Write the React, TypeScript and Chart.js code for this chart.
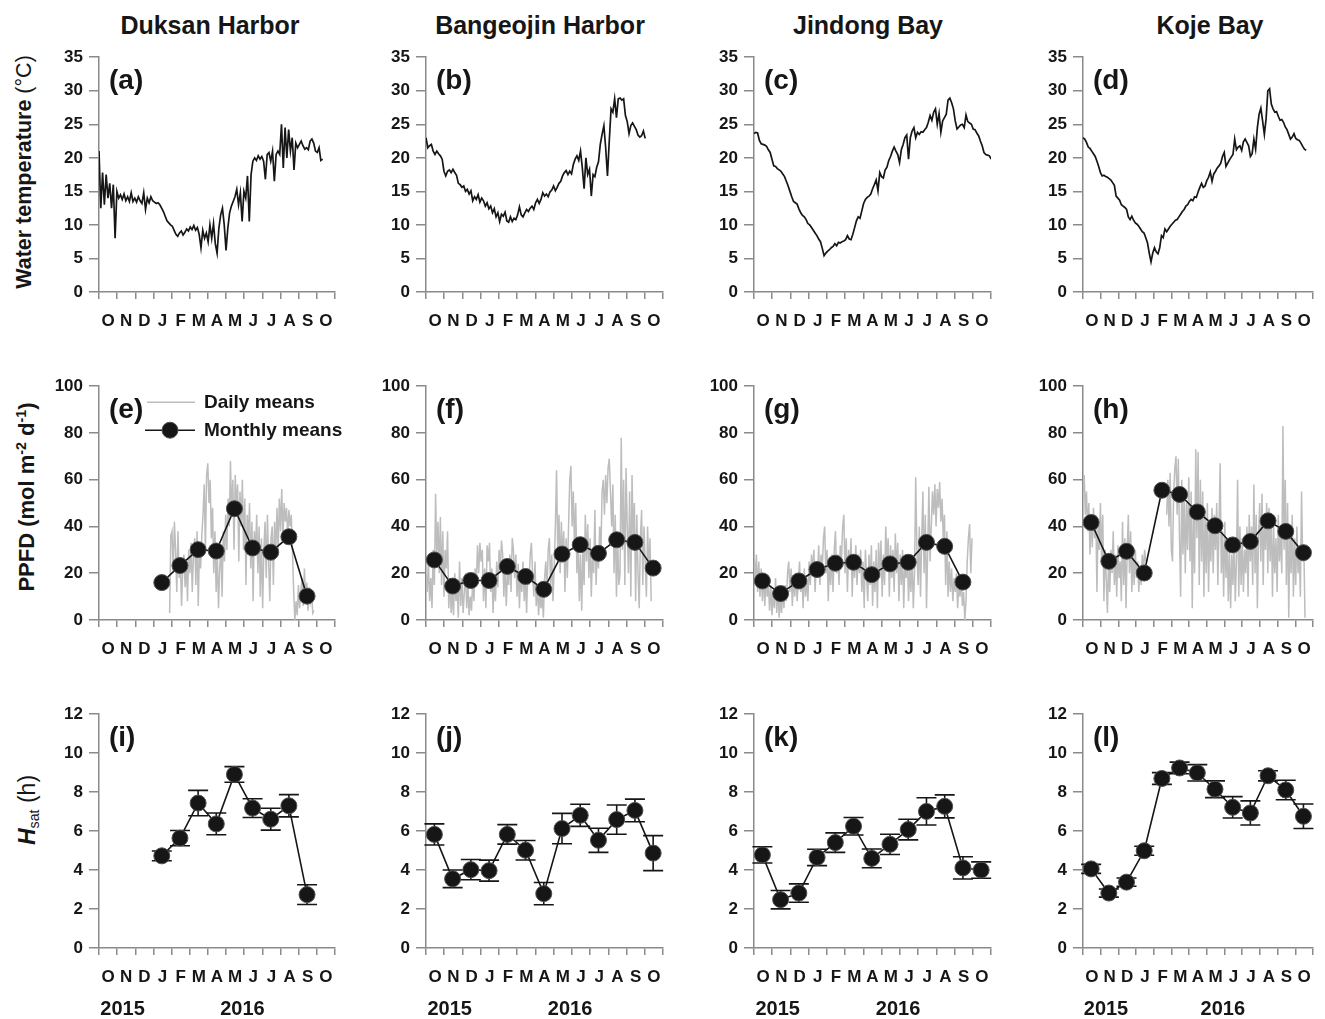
import React, { useEffect, useRef } from 'react';
import Chart from 'chart.js/auto';

// ---------------- data ----------------
const MONTHS = ['O', 'N', 'D', 'J', 'F', 'M', 'A', 'M', 'J', 'J', 'A', 'S', 'O'];
const YEARS = ['2015', '2016'];
const YEAR_TICKS = [1.3, 7.9];
const SITES = ['Duksan Harbor', 'Bangeojin Harbor', 'Jindong Bay', 'Koje Bay'];
const LETTERS = ['a', 'b', 'c', 'd', 'e', 'f', 'g', 'h', 'i', 'j', 'k', 'l'];

const TEMP_STEP = 3 / 30.44; // one sample every 3 days (in months)
const PPFD_STEP = 2 / 30.44; // one sample every 2 days (in months)
const MONTH_MID = 0.46;

// Water temperature (°C), every 3 days from 1 Oct 2015
const TEMP_A = [21, 12.5, 17.8, 13, 17.5, 14, 16.2, 12.5, 16, 8, 15, 14, 14.5, 13.8, 14.6, 13.6, 14.2, 13.5, 14.8, 13.5, 14, 13.4, 14.2, 13.6, 13.2, 14.8, 12.3, 14, 13.3, 14.2, 13.6, 13.4, 13.2, 13.3, 13, 12.5, 12, 11.3, 10.6, 10.3, 10, 9.8, 9.2, 8.6, 8.3, 8.8, 9.1, 8.5, 8.9, 9.4, 9.1, 9.7, 9.3, 9.9, 9.2, 9.6, 8.6, 6.6, 9.2, 8, 8.8, 7.5, 10, 8, 10.2, 7.2, 5.8, 9.5, 11.5, 12.5, 10, 6.2, 9.5, 11.8, 12.8, 13.5, 14.2, 15.3, 13, 14.8, 10.5, 15, 14, 17.3, 10.5, 17.5, 19.5, 20, 19.6, 20.3, 19.8, 20.2, 19.5, 16.8, 20.5, 20.8, 19.5, 21, 16.5, 20.5, 21, 20.5, 25, 18.5, 24.5, 20, 24.2, 21, 23, 18.2, 22.2, 21.5, 22, 22.5, 21.8, 21.3, 21.5, 21.2, 22.5, 22.8, 22.2, 21, 20.8, 21.5, 19.6, 19.8];
const TEMP_B = [23, 21.5, 21.8, 22, 21, 20.5, 21, 20.6, 20.3, 19.8, 18, 17.3, 18, 18.2, 17.8, 18.3, 17.8, 17.4, 16.2, 16, 15.6, 15.8, 15, 15.3, 14.6, 15.1, 13.6, 14.2, 13.8, 14.5, 13.4, 14, 13.6, 12.8, 13.3, 12.4, 12.8, 11.8, 12.4, 11.2, 11.8, 10.5, 11.6, 11.3, 11.9, 10.6, 10.4, 11.2, 10.5, 11, 10.8, 11.5, 12.7, 11.5, 11.2, 11.8, 12.3, 12, 12.5, 12.8, 12.3, 13.3, 13.8, 13.2, 13.8, 14.8, 14.3, 14.6, 14.2, 14.9, 15.2, 15.8, 15.1, 15.6, 16.2, 16.5, 17.3, 17.8, 18.1, 17.5, 18, 17.6, 19, 19.8, 20.3, 19.6, 21, 18.5, 15.4, 20, 17.5, 18.3, 14.3, 17.5, 17.2, 18.6, 19.4, 22, 23.5, 24.8, 21.5, 17.3, 22.5, 27.3, 26.8, 28.8, 26, 28.8, 28.9, 28.6, 28.8, 26.3, 25.4, 23.6, 24.8, 25.2, 24.7, 24.2, 23.4, 23.1, 23.3, 24, 22.9];
const TEMP_C = [23.6, 23.8, 23.7, 22.6, 22.1, 22, 21.9, 21.7, 21.2, 20.8, 19.8, 18.8, 18.7, 18.4, 18.2, 18, 17.6, 17.2, 16.5, 15.8, 15, 14.2, 13.5, 13.3, 13.1, 12.4, 11.8, 11.4, 11.2, 10.8, 10.2, 10, 9.6, 9.2, 8.8, 8.4, 7.9, 7.5, 6.5, 5.4, 5.8, 6.1, 6.3, 6.6, 6.8, 7.2, 6.9, 7.4, 7.3, 7.5, 7.6, 7.8, 8.4, 7.9, 7.8, 8.6, 9.6, 10.6, 11.2, 11, 12.1, 13.2, 13.8, 14.1, 14.3, 14.6, 15.4, 16, 16.7, 15.1, 17.8, 17.2, 17, 18.2, 18.6, 19.6, 20.2, 21, 21.6, 21, 20.5, 19.3, 21.2, 22, 23, 23.4, 19.8, 23, 24, 24.5, 23, 23.8, 23.5, 23.9, 23.8, 24.2, 24.5, 25.3, 26.3, 25.6, 26.8, 27.3, 25, 26.6, 23.8, 25.5, 26, 26.5, 28.6, 28.9, 28.2, 27.3, 25.5, 24.3, 24.6, 24.9, 25, 24.5, 26.4, 25.4, 25.2, 25, 24.3, 24.2, 23.7, 23.3, 22.5, 21.8, 20.8, 20.5, 20.4, 20.3, 19.8];
const TEMP_D = [23, 22.8, 22.3, 21.6, 21.4, 21, 20.6, 20.2, 19.5, 18.7, 17.8, 17.3, 17.4, 17.2, 17.1, 16.9, 16.7, 16.3, 15.9, 14.3, 14, 13.7, 13, 12.8, 12.6, 12.3, 11.2, 10.8, 11.3, 10.7, 10.3, 10.1, 9.8, 9.4, 9, 8.8, 8.1, 7.3, 5.8, 4.5, 5.8, 6.6, 6, 5.7, 6.6, 8.4, 8.1, 9.4, 9, 9.4, 9.8, 10.1, 10.4, 10.7, 10.8, 11.2, 11.6, 12, 12.3, 12.8, 13, 13.5, 13.8, 13.6, 14.2, 14.1, 14.9, 15.6, 16.2, 15.6, 15.8, 16.6, 17.1, 17.9, 16.5, 17.6, 18, 18.5, 18.8, 19.2, 20.2, 20.8, 18.7, 19.2, 19.7, 20.1, 20.5, 22.8, 21.2, 21.6, 21.8, 21.1, 22.4, 22.8, 22.3, 21.8, 20.2, 20.6, 22.8, 21.3, 24.5, 26.5, 27.4, 25.5, 23.5, 25.8, 30, 30.3, 28, 27.3, 26.8, 26.9, 26.2, 25.6, 25.7, 25.3, 24.6, 24.2, 23.5, 22.8, 23.1, 23.6, 22.9, 22.7, 22.6, 22.2, 21.7, 21.3, 21.1];

// PPFD daily means (mol m-2 d-1), every 2 days
const PPFD_E = [3, 36, 38, 20, 42, 30, 12, 38, 18, 25, 6, 22, 28, 14, 25, 8, 30, 20, 33, 12, 28, 35, 15, 38, 6, 30, 22, 36, 45, 58, 30, 62, 67, 50, 60, 35, 48, 20, 38, 12, 28, 5, 22, 32, 10, 38, 25, 45, 30, 52, 40, 68, 45, 60, 30, 62, 48, 58, 25, 55, 40, 60, 30, 52, 15, 45, 35, 50, 22, 42, 8, 38, 28, 45, 20, 40, 10, 35, 5, 30, 42, 18, 45, 25, 8, 35, 40, 15, 42, 28, 48, 30, 52, 38, 56, 35, 50, 42, 48, 36, 47, 40, 45, 30, 12, 0, 8, 2, 15, 5, 12, 18, 6, 22, 10, 16, 4, 14, 8, 12, 3, 4];
const PPFD_F = [20, 12, 25, 8, 18, 5, 30, 15, 54, 28, 42, 20, 44, 15, 38, 10, 30, 22, 38, 5, 18, 3, 12, 2, 20, 8, 14, 1, 25, 6, 18, 3, 12, 20, 5, 15, 2, 10, 4, 18, 8, 22, 15, 32, 20, 33, 25, 30, 8, 22, 5, 32, 25, 33, 12, 22, 3, 18, 8, 25, 14, 30, 20, 34, 28, 10, 25, 6, 20, 15, 28, 12, 35, 30, 18, 28, 10, 24, 5, 20, 12, 25, 8, 18, 3, 22, 15, 28, 33, 20, 10, 25, 6, 15, 2, 12, 5, 10, 1, 18, 25, 12, 30, 35, 15, 28, 8, 22, 40, 64, 30, 45, 20, 42, 25, 38, 12, 35, 18, 40, 60, 66, 40, 55, 30, 50, 20, 35, 8, 28, 4, 30, 15, 45, 25, 41, 18, 35, 10, 30, 20, 47, 15, 32, 22, 40, 28, 55, 60, 45, 62, 50, 65, 69, 55, 40, 58, 20, 45, 10, 35, 15, 20, 78, 30, 60, 15, 65, 40, 20, 55, 10, 62, 35, 50, 8, 45, 20, 5, 35, 47, 15, 40, 25, 10, 40, 20, 35, 8];
const PPFD_G = [30, 15, 28, 12, 25, 10, 22, 8, 20, 6, 18, 10, 16, 4, 15, 2, 12, 5, 18, 3, 14, 1, 10, 3, 12, 5, 15, 8, 20, 25, 12, 22, 6, 18, 10, 20, 8, 16, 25, 12, 20, 5, 22, 10, 18, 8, 25, 15, 28, 20, 30, 12, 25, 18, 32, 15, 28, 22, 35, 40, 20, 30, 8, 25, 15, 28, 12, 30, 38, 20, 28, 15, 32, 25, 40, 45, 20, 35, 12, 30, 22, 35, 10, 28, 18, 32, 15, 28, 20, 30, 12, 25, 5, 30, 18, 8, 28, 15, 32, 6, 25, 12, 30, 5, 33, 18, 34, 10, 28, 15, 40, 25, 35, 10, 32, 18, 30, 12, 37, 20, 33, 8, 28, 15, 30, 5, 25, 18, 28, 8, 22, 12, 28, 5, 20, 61, 30, 15, 40, 10, 35, 55, 20, 45, 5, 30, 57, 25, 40, 55, 45, 58, 40, 56, 48, 59, 42, 52, 35, 45, 15, 38, 10, 25, 12, 22, 8, 18, 12, 20, 5, 15, 10, 18, 6, 12, 0, 8, 25, 35, 41, 20, 35];
const PPFD_H = [55, 62, 45, 55, 38, 50, 28, 45, 31, 48, 35, 45, 12, 42, 30, 50, 25, 45, 8, 30, 18, 3, 25, 12, 30, 20, 38, 15, 28, 10, 32, 18, 25, 8, 42, 15, 35, 5, 30, 45, 20, 38, 12, 28, 15, 30, 18, 25, 12, 22, 15, 28, 20, 30, 25, null, null, null, null, null, null, null, null, null, null, null, null, null, null, null, null, null, 45, 60, 40, 63, 30, 25, 55, 65, 70, 45, 69, 35, 10, 60, 28, 55, 20, 50, 30, 61, 25, 55, 5, 48, 20, 73, 35, 72, 15, 60, 25, 55, 10, 45, 20, 50, 12, 40, 25, 48, 20, 45, 30, 50, 15, 40, 67, 20, 38, 10, 42, 18, 35, 8, 30, 5, 28, 15, 35, 8, 25, 60, 10, 40, 15, 35, 12, 30, 20, 40, 10, 45, 25, 40, 15, 58, 20, 45, 5, 35, 50, 25, 54, 15, 45, 30, 50, 20, 48, 25, 45, 10, 40, 20, 35, 12, 45, 25, 38, 20, 83, 30, 60, 15, 50, 1, 40, 20, 45, 10, 35, 15, 40, 20, 30, 10, 55, 25, 30, 1];
const PPFD_START = [3.89, 0, 0, 0];

// PPFD monthly means (O .. O)
const PPFD_M_E = [null, null, null, 16.0, 23.3, 30.1, 29.5, 47.6, 30.8, 29.0, 35.6, 10.2];
const PPFD_M_F = [25.7, 14.5, 16.9, 16.9, 22.9, 18.6, 13.1, 28.2, 32.2, 28.5, 34.3, 33.2, 22.2];
const PPFD_M_G = [16.7, 11.3, 16.7, 21.6, 24.3, 24.7, 19.4, 24.0, 24.7, 33.2, 31.5, 16.2];
const PPFD_M_H = [41.7, 25.1, 29.4, 20.1, 55.5, 53.7, 46.2, 40.3, 32.1, 33.6, 42.4, 37.9, 28.8];

// Hsat (h) monthly means and error
const HSAT_I = [null, null, null, 4.73, 5.64, 7.44, 6.37, 8.91, 7.18, 6.61, 7.30, 2.74];
const HSAT_I_ERR = [null, null, null, 0.25, 0.39, 0.65, 0.56, 0.4, 0.48, 0.56, 0.57, 0.51];
const HSAT_J = [5.83, 3.55, 4.02, 3.97, 5.83, 5.02, 2.79, 6.13, 6.81, 5.53, 6.59, 7.06, 4.87];
const HSAT_J_ERR = [0.54, 0.45, 0.52, 0.54, 0.5, 0.5, 0.57, 0.78, 0.57, 0.62, 0.75, 0.58, 0.9];
const HSAT_K = [4.78, 2.48, 2.82, 4.65, 5.41, 6.25, 4.6, 5.32, 6.08, 7.01, 7.27, 4.11, 4.0];
const HSAT_K_ERR = [0.42, 0.47, 0.47, 0.42, 0.5, 0.45, 0.48, 0.52, 0.53, 0.7, 0.59, 0.57, 0.42];
const HSAT_L = [4.06, 2.82, 3.38, 4.99, 8.70, 9.24, 8.99, 8.15, 7.22, 6.93, 8.84, 8.11, 6.76];
const HSAT_L_ERR = [0.23, 0.21, 0.21, 0.23, 0.3, 0.3, 0.42, 0.43, 0.55, 0.62, 0.26, 0.5, 0.63];

const TEMP_SERIES = [TEMP_A, TEMP_B, TEMP_C, TEMP_D];
const PPFD_DAILY = [PPFD_E, PPFD_F, PPFD_G, PPFD_H];
const PPFD_MONTHLY = [PPFD_M_E, PPFD_M_F, PPFD_M_G, PPFD_M_H];
const HSAT = [HSAT_I, HSAT_J, HSAT_K, HSAT_L];
const HSAT_ERR = [HSAT_I_ERR, HSAT_J_ERR, HSAT_K_ERR, HSAT_L_ERR];

const Y_MAX = [35, 100, 12];
const Y_STEP = [5, 20, 2];

// ---------------- layout / style ----------------
const PAGE_W = 1325;
const PAGE_H = 1019;
const COL_X = [99, 426, 754, 1083];
const COL_W = [236, 237, 237, 236];
const ROW_TOP = [55, 384, 712];
const ROW_H = [237, 236, 236];
const Y_AXIS_W = 70;
const PAD_TOP = 14;
const RIGHT_PAD = 22;
const X_AXIS_H = 40;
const YEAR_AXIS_H = 30;
const CAP = 10;
const TITLE_X = [210, 540, 868, 1210];
const FONT = "'Liberation Sans', Arial, Helvetica, sans-serif";
const INK = '#161616';
const AXIS = '#8a8a8a';
const DAILY_GREY = '#bdbdbd';

Chart.defaults.font.family = FONT;

type Spec = {
  row: number;
  col: number;
  letter: string;
  daily?: (number | null)[];
  dailyStart?: number;
  dailyStep?: number;
  dailyColor?: string;
  dailyWidth?: number;
  monthly?: (number | null)[];
  errors?: (number | null)[];
  legend?: boolean;
};

const HALF_TICKS: number[] = [];
for (let k = 0; k <= 26; k++) HALF_TICKS.push(k / 2);

function PanelChart({ spec }: { spec: Spec }) {
  const ref = useRef<HTMLCanvasElement | null>(null);
  const x0 = COL_X[spec.col];
  const w = COL_W[spec.col];
  const padRight = Math.min(RIGHT_PAD, PAGE_W - (x0 + w));
  const cw = Y_AXIS_W + w + padRight;
  const ch = PAD_TOP + ROW_H[spec.row] + X_AXIS_H + (spec.row === 2 ? YEAR_AXIS_H : 0);

  useEffect(() => {
    const canvas = ref.current;
    if (!canvas) return;
    const datasets: any[] = [];
    if (spec.monthly) {
      const pts: { x: number; y: number }[] = [];
      spec.monthly.forEach((v, i) => {
        if (v != null) pts.push({ x: i + MONTH_MID, y: v });
      });
      datasets.push({
        data: pts,
        borderColor: INK,
        borderWidth: 1.6,
        pointRadius: 8,
        pointBackgroundColor: INK,
        pointBorderColor: '#505050',
        pointBorderWidth: 1,
        tension: 0,
        order: 0,
      });
    }
    if (spec.daily) {
      const start = spec.dailyStart || 0;
      const step = spec.dailyStep || 1;
      datasets.push({
        data: spec.daily.map((v, i) => ({ x: start + i * step, y: v })),
        borderColor: spec.dailyColor,
        borderWidth: spec.dailyWidth,
        pointRadius: 0,
        tension: 0,
        order: 1,
      });
    }

    const decor = {
      id: 'decor',
      beforeDatasetsDraw(chart: any) {
        if (!spec.errors || !spec.monthly) return;
        const { ctx } = chart;
        const xs = chart.scales.x;
        const ys = chart.scales.y;
        ctx.save();
        ctx.strokeStyle = INK;
        ctx.lineWidth = 1.6;
        spec.monthly.forEach((v, i) => {
          const e = spec.errors![i];
          if (v == null || e == null) return;
          const px = xs.getPixelForValue(i + MONTH_MID);
          const top = ys.getPixelForValue(v + e);
          const bot = ys.getPixelForValue(v - e);
          ctx.beginPath();
          ctx.moveTo(px, top);
          ctx.lineTo(px, bot);
          ctx.moveTo(px - CAP, top);
          ctx.lineTo(px + CAP, top);
          ctx.moveTo(px - CAP, bot);
          ctx.lineTo(px + CAP, bot);
          ctx.stroke();
        });
        ctx.restore();
      },
      afterDraw(chart: any) {
        const { ctx, chartArea } = chart;
        ctx.save();
        ctx.fillStyle = INK;
        ctx.textBaseline = 'middle';
        ctx.textAlign = 'left';
        ctx.font = `bold 28px ${FONT}`;
        ctx.fillText(`(${spec.letter})`, chartArea.left + 10, chartArea.top + 24);
        if (spec.legend) {
          const L = chartArea.left;
          const T = chartArea.top;
          ctx.lineWidth = 1.6;
          ctx.strokeStyle = DAILY_GREY;
          ctx.beginPath();
          ctx.moveTo(L + 48, T + 16);
          ctx.lineTo(L + 96, T + 16);
          ctx.stroke();
          ctx.strokeStyle = INK;
          ctx.beginPath();
          ctx.moveTo(L + 46, T + 44);
          ctx.lineTo(L + 96, T + 44);
          ctx.stroke();
          ctx.beginPath();
          ctx.arc(L + 71, T + 44, 8, 0, Math.PI * 2);
          ctx.fillStyle = INK;
          ctx.fill();
          ctx.strokeStyle = '#505050';
          ctx.lineWidth = 1;
          ctx.stroke();
          ctx.fillStyle = INK;
          ctx.font = `bold 19px ${FONT}`;
          ctx.fillText('Daily means', L + 105, T + 17);
          ctx.fillText('Monthly means', L + 105, T + 45);
        }
        ctx.restore();
      },
    };

    const scales: any = {
      x: {
        type: 'linear',
        position: 'bottom',
        min: 0,
        max: 13,
        afterBuildTicks: (s: any) => {
          s.ticks = HALF_TICKS.map((v) => ({ value: v }));
        },
        afterFit: (s: any) => {
          s.height = X_AXIS_H;
        },
        ticks: {
          autoSkip: false,
          maxRotation: 0,
          minRotation: 0,
          padding: 12,
          color: INK,
          font: { size: 17, weight: 'bold' },
          callback: (v: number) => (Number.isInteger(v) ? '' : MONTHS[Math.floor(v)]),
        },
        grid: {
          drawOnChartArea: false,
          drawTicks: true,
          tickLength: 7,
          lineWidth: 1.5,
          color: (c: any) => (c.tick && Number.isInteger(c.tick.value) ? AXIS : 'rgba(0,0,0,0)'),
        },
        border: { color: AXIS, width: 1.5 },
      },
      y: {
        type: 'linear',
        position: 'left',
        min: 0,
        max: Y_MAX[spec.row],
        afterFit: (s: any) => {
          s.width = Y_AXIS_W;
        },
        ticks: {
          stepSize: Y_STEP[spec.row],
          padding: 6,
          color: INK,
          font: { size: 17, weight: 'bold' },
        },
        grid: {
          drawOnChartArea: false,
          drawTicks: true,
          tickLength: 10,
          lineWidth: 1.5,
          color: AXIS,
        },
        border: { color: AXIS, width: 1.5 },
      },
    };
    if (spec.row === 2) {
      scales.year = {
        type: 'linear',
        position: 'bottom',
        weight: 1,
        min: 0,
        max: 13,
        afterBuildTicks: (s: any) => {
          s.ticks = YEAR_TICKS.map((v) => ({ value: v }));
        },
        afterFit: (s: any) => {
          s.height = YEAR_AXIS_H;
        },
        ticks: {
          autoSkip: false,
          maxRotation: 0,
          minRotation: 0,
          padding: 9,
          color: INK,
          font: { size: 20, weight: 'bold' },
          callback: (_v: number, i: number) => YEARS[i],
        },
        grid: { display: false, drawTicks: false },
        border: { display: false },
      };
    }

    const chart = new Chart(canvas, {
      type: 'line',
      data: { datasets },
      options: {
        animation: false,
        responsive: false,
        devicePixelRatio: 1,
        events: [],
        layout: { padding: { top: PAD_TOP, right: padRight, left: 0, bottom: 0 } },
        plugins: { legend: { display: false }, tooltip: { enabled: false } },
        scales,
      } as any,
      plugins: [decor],
    });
    return () => chart.destroy();
  }, []);

  return (
    <canvas
      ref={ref}
      width={cw}
      height={ch}
      style={{
        position: 'absolute',
        left: x0 - Y_AXIS_W,
        top: ROW_TOP[spec.row] - PAD_TOP,
        width: cw,
        height: ch,
      }}
    />
  );
}

const SPECS: Spec[] = [];
for (let c = 0; c < 4; c++) {
  SPECS.push({
    row: 0,
    col: c,
    letter: LETTERS[c],
    daily: TEMP_SERIES[c],
    dailyStart: 0,
    dailyStep: TEMP_STEP,
    dailyColor: INK,
    dailyWidth: 1.7,
  });
}
for (let c = 0; c < 4; c++) {
  SPECS.push({
    row: 1,
    col: c,
    letter: LETTERS[4 + c],
    daily: PPFD_DAILY[c],
    dailyStart: PPFD_START[c],
    dailyStep: PPFD_STEP,
    dailyColor: DAILY_GREY,
    dailyWidth: 1.5,
    monthly: PPFD_MONTHLY[c],
    legend: c === 0,
  });
}
for (let c = 0; c < 4; c++) {
  SPECS.push({
    row: 2,
    col: c,
    letter: LETTERS[8 + c],
    monthly: HSAT[c],
    errors: HSAT_ERR[c],
  });
}

const textBase: React.CSSProperties = {
  position: 'absolute',
  whiteSpace: 'nowrap',
  fontFamily: FONT,
  color: INK,
  lineHeight: 1,
};

export default function App() {
  return (
    <div
      style={{
        position: 'absolute',
        left: 0,
        top: 0,
        width: PAGE_W,
        height: PAGE_H,
        overflow: 'hidden',
        background: '#ffffff',
      }}
    >
      {SITES.map((s, i) => (
        <div
          key={s}
          style={{
            ...textBase,
            left: TITLE_X[i],
            top: 25,
            transform: 'translate(-50%, -50%)',
            fontSize: 25,
            fontWeight: 'bold',
          }}
        >
          {s}
        </div>
      ))}
      <div
        style={{
          ...textBase,
          left: 25,
          top: 172,
          transform: 'translate(-50%, -50%) rotate(-90deg)',
          fontSize: 21.5,
          fontWeight: 'bold',
        }}
      >
        Water temperature <span style={{ fontWeight: 'normal' }}>(°C)</span>
      </div>
      <div
        style={{
          ...textBase,
          left: 27,
          top: 497,
          transform: 'translate(-50%, -50%) rotate(-90deg)',
          fontSize: 22,
          fontWeight: 'bold',
        }}
      >
        PPFD (mol m<span style={{ fontSize: '0.65em', position: 'relative', top: '-0.55em' }}>-2</span> d
        <span style={{ fontSize: '0.65em', position: 'relative', top: '-0.55em' }}>-1</span>)
      </div>
      <div
        style={{
          ...textBase,
          left: 27,
          top: 810,
          transform: 'translate(-50%, -50%) rotate(-90deg)',
          fontSize: 23,
        }}
      >
        <i style={{ fontWeight: 'bold' }}>H</i>
        <span style={{ fontSize: '0.62em', position: 'relative', top: '0.3em' }}>sat</span> (h)
      </div>
      {SPECS.map((s) => (
        <PanelChart key={s.letter} spec={s} />
      ))}
    </div>
  );
}
